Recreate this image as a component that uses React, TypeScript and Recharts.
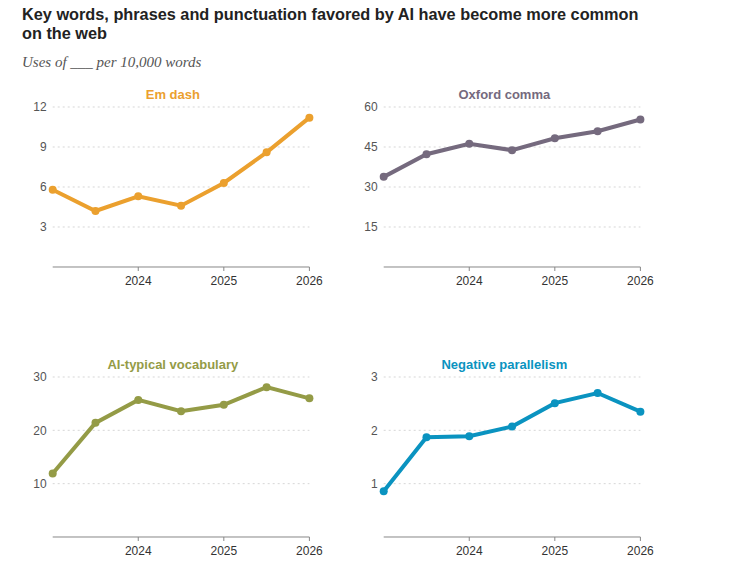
import { LineChart, Line, XAxis, YAxis, CartesianGrid } from "recharts";

const periods = [2023, 2023.5, 2024, 2024.5, 2025, 2025.5, 2026];
const yearTicks = [2024, 2025, 2026];

const emDash = [5.8, 4.2, 5.3, 4.6, 6.3, 8.6, 11.2];
const oxfordComma = [33.8, 42.3, 46.2, 43.8, 48.3, 50.9, 55.3];
const aiVocabulary = [11.9, 21.4, 25.7, 23.6, 24.8, 28.1, 26.0];
const negativeParallelism = [0.86, 1.87, 1.89, 2.07, 2.51, 2.7, 2.35];

const emDashTicks = [3, 6, 9, 12];
const oxfordTicks = [15, 30, 45, 60];
const vocabTicks = [10, 20, 30];
const parallelTicks = [1, 2, 3];

const PLOT_W = 256.7;
const PLOT_H = 160;
const Y_W = 52.7;
const TOP = 30;

const Panel = ({ title, values, ticks, color, left, top }: any) => {
  const data = periods.map((p, i) => ({ period: p, value: values[i] }));
  const max = ticks[ticks.length - 1];
  return (
    <div style={{ position: "absolute", left: left - Y_W, top: top - TOP }}>
      <div
        style={{
          position: "absolute",
          left: Y_W + PLOT_W / 2 - 8 - 100,
          width: 200,
          top: TOP - 20,
          textAlign: "center",
          fontFamily: "'Liberation Sans', Arial, sans-serif",
          fontWeight: 700,
          fontSize: 13,
          color,
          lineHeight: "16px",
        }}
      >
        {title}
      </div>
      <LineChart
        width={Y_W + PLOT_W + 20}
        height={TOP + PLOT_H + 35}
        data={data}
        margin={{ top: TOP, right: 20, left: 0, bottom: 5 }}
      >
        <CartesianGrid
          vertical={false}
          horizontalValues={ticks}
          stroke="#d6d6d6"
          strokeDasharray="2 3"
        />
        <XAxis
          dataKey="period"
          type="number"
          domain={[2023, 2026]}
          ticks={yearTicks}
          height={30}
          axisLine={{ stroke: "#888" }}
          tickLine={{ stroke: "#888" }}
          tickSize={4}
          tickMargin={5}
          tick={{ fill: "#333", fontSize: 12, fontFamily: "'Liberation Sans', Arial, sans-serif" }}
        />
        <YAxis
          domain={[0, max]}
          ticks={ticks}
          width={Y_W}
          axisLine={false}
          tickLine={false}
          tickSize={0}
          tickMargin={6}
          tick={{ fill: "#555", fontSize: 12, fontFamily: "'Liberation Sans', Arial, sans-serif" }}
        />
        <Line
          type="linear"
          dataKey="value"
          stroke={color}
          strokeWidth={4}
          dot={{ r: 4, fill: color, stroke: color, strokeWidth: 0 }}
          activeDot={false}
          isAnimationActive={false}
        />
      </LineChart>
    </div>
  );
};

export default function App() {
  return (
    <div
      style={{
        position: "absolute",
        left: 0,
        top: 0,
        width: 746,
        height: 585,
        background: "#fff",
      }}
    >
      <div
        style={{
          position: "absolute",
          left: 22,
          top: 5,
          width: 700,
          fontFamily: "'Liberation Sans', Arial, sans-serif",
          fontWeight: 700,
          fontSize: 16.3,
          lineHeight: "19px",
          color: "#222",
        }}
      >
        Key words, phrases and punctuation favored by AI have become more common
        <br />
        on the web
      </div>
      <div
        style={{
          position: "absolute",
          left: 22,
          top: 54,
          fontFamily: "'Liberation Serif', 'Times New Roman', serif",
          fontStyle: "italic",
          fontSize: 15,
          color: "#555",
        }}
      >
        Uses of ___ per 10,000 words
      </div>
      <Panel title="Em dash" values={emDash} ticks={emDashTicks} color="#EBA02E" left={52.5} top={106.5} />
      <Panel title="Oxford comma" values={oxfordComma} ticks={oxfordTicks} color="#756A7E" left={384} top={106.5} />
      <Panel title="AI-typical vocabulary" values={aiVocabulary} ticks={vocabTicks} color="#949B46" left={52.5} top={376.5} />
      <Panel title="Negative parallelism" values={negativeParallelism} ticks={parallelTicks} color="#0A93C0" left={384} top={376.5} />
    </div>
  );
}
